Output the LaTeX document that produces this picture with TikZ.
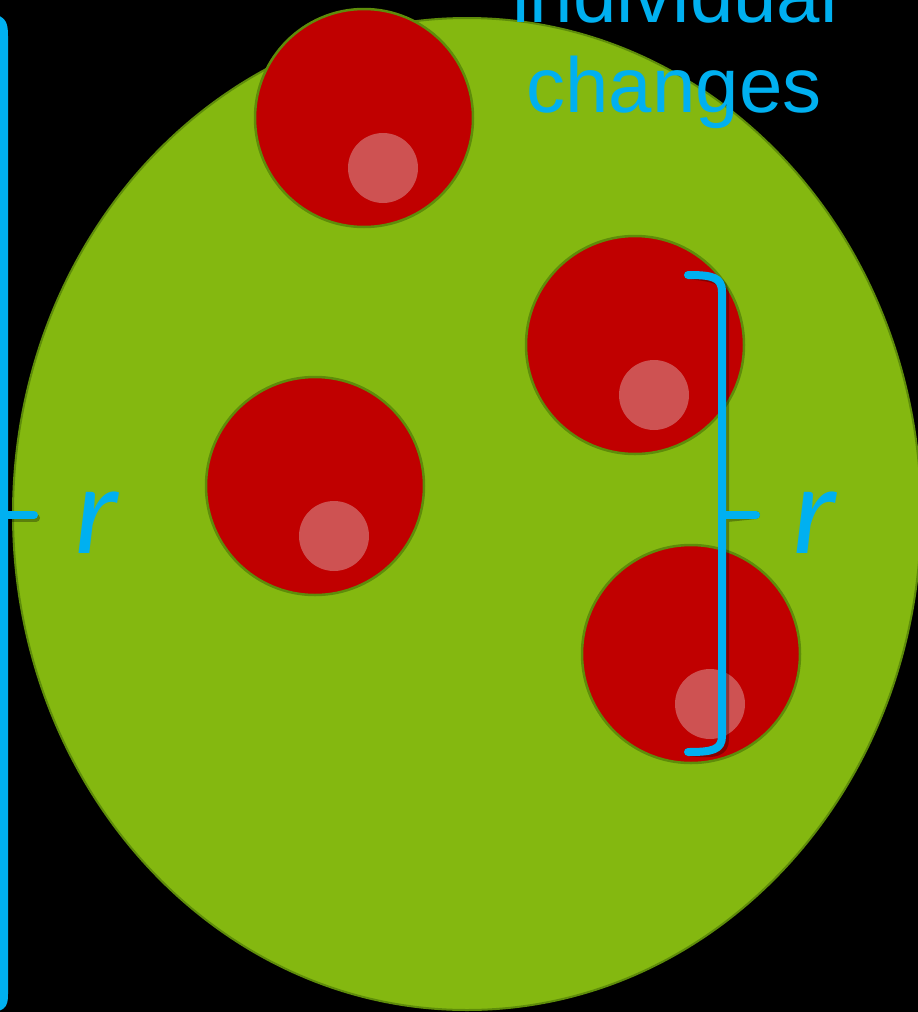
\documentclass[tikz,border=0pt]{standalone}
\usepackage{fontspec}
\setmainfont{Liberation Sans}
\newfontfamily\rfont{Carlito}
\definecolor{bg}{RGB}{0,0,0}
\definecolor{leaf}{RGB}{132,184,16}
\definecolor{leafedge}{RGB}{94,140,10}
\definecolor{berry}{RGB}{192,0,0}
\definecolor{shine}{RGB}{206,82,82}
\definecolor{sky}{RGB}{0,176,240}
\begin{document}
\begin{tikzpicture}[x=1pt,y=-1pt,
  cell/.style={fill=berry,draw=leafedge,line width=2.5pt},
  glint/.style={fill=shine},
  bracepath/.style={draw=sky,line width=8pt,line cap=round,line join=round},
  braceshadow/.style={draw=black,opacity=0.3,line width=8pt,line cap=round,line join=round},
  lbl/.style={text=sky,inner sep=0pt,anchor=base}]
\fill[bg] (0,0) rectangle (918,1012);
\useasboundingbox (0,0) rectangle (918,1012);
% big green cell
\filldraw[fill=leaf,draw=leafedge,line width=2pt] (467,514) ellipse [x radius=454, y radius=496];
\coordinate (big) at (467,514);
% text
\node[lbl,font=\fontsize{78}{78}\selectfont] (t1) at (675,22) {individual};
\node[lbl,font=\fontsize{78}{78}\selectfont] (t2) at (674,112) {changes};
% red cells
\foreach \n/\cx/\cy in {a/364/118, b/635/345, c/315/486, d/691/654}{
  \draw[cell] (\cx,\cy) circle [radius=109];
  \fill[glint] (\cx+19,\cy+50) circle [radius=35];
  \coordinate (\n) at (\cx,\cy);
}
% left brace
\coordinate (lt) at (-15,18);
\coordinate (lb) at (-15,1008);
\coordinate (ltip) at (34,515);
\draw[braceshadow,xshift=2pt,yshift=-3pt] (4,530) -- (4,1000) (6,515) -- (34,515);
\path[bracepath] (lt) .. controls (2,18) and (4,22) .. (4,36) -- (4,994) .. controls (4,1006) and (2,1008) .. (lb);
\path[bracepath] (4,515) -- (ltip);
% right bracket
\coordinate (rt) at (688,275);
\coordinate (rb) at (688,752);
\coordinate (rtip) at (756,515);
\draw[braceshadow,xshift=3pt,yshift=-3pt] (rt) .. controls (712,275) and (722,277) .. (722,292) -- (722,736) .. controls (722,750) and (712,752) .. (rb) (724,515) -- (rtip);
\path[bracepath] (rt) .. controls (712,275) and (722,277) .. (722,292) -- (722,736) .. controls (722,750) and (712,752) .. (rb);
\path[bracepath] (722,515) -- (rtip);
% r labels
\node[lbl,font=\fontsize{128}{128}\selectfont\rfont\itshape] (r1) at (96,553) {r};
\node[lbl,font=\fontsize{128}{128}\selectfont\rfont\itshape] (r2) at (814,553) {r};
\end{tikzpicture}
\end{document}
